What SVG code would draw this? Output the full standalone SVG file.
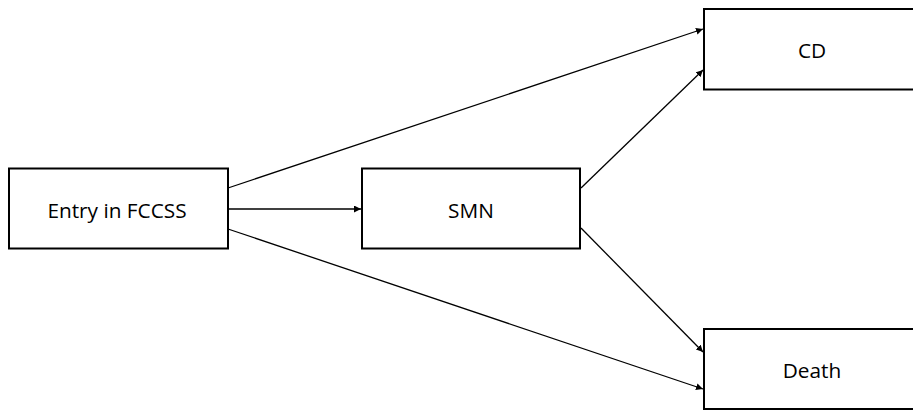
<svg xmlns="http://www.w3.org/2000/svg" width="913" height="410" viewBox="0 0 913 410">
<style>
.box{fill:#fff;stroke:#000;stroke-width:2}
.lbl{font-family:"Open Sans","Liberation Sans",Arial,sans-serif;font-size:20.8px;fill:#000;text-anchor:middle}
.edge{stroke:#000;stroke-width:1.3;fill:none;marker-end:url(#ah)}
</style>
<defs>
<marker id="ah" viewBox="0 0 10 10" refX="10" refY="5" markerWidth="7" markerHeight="7" markerUnits="userSpaceOnUse" orient="auto">
<path d="M0,0 L10,5 L0,10 z" fill="#000"/>
</marker>
</defs>
<rect width="913" height="410" fill="#fff"/>
<g id="connectors">
<line class="edge" x1="228" y1="188" x2="703" y2="29"/>
<line class="edge" x1="228" y1="209" x2="361" y2="209"/>
<line class="edge" x1="228" y1="229" x2="703" y2="389"/>
<line class="edge" x1="581" y1="188" x2="703" y2="70"/>
<line class="edge" x1="581" y1="228" x2="703" y2="352"/>
</g>
<g id="entry">
<rect class="box" x="9" y="168.5" width="219" height="80"/>
<text class="lbl" x="117" y="217.5">Entry in FCCSS</text>
</g>
<g id="smn">
<rect class="box" x="362" y="168.5" width="218" height="80"/>
<text class="lbl" x="471" y="217.5">SMN</text>
</g>
<g id="cd">
<rect class="box" x="704" y="9" width="216" height="80.5"/>
<text class="lbl" x="812" y="57.5">CD</text>
</g>
<g id="death">
<rect class="box" x="704" y="329" width="216" height="80"/>
<text class="lbl" x="812" y="377.5">Death</text>
</g>
</svg>
